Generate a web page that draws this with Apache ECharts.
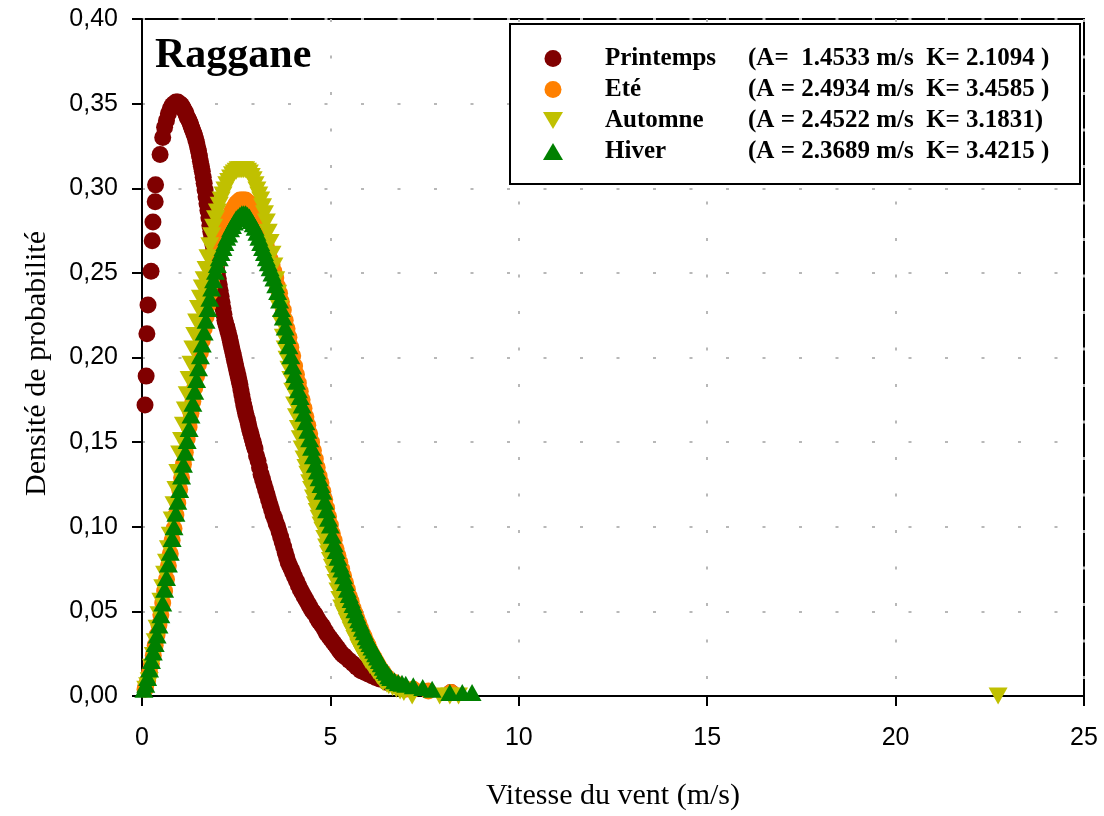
<!DOCTYPE html>
<html>
<head>
<meta charset="utf-8">
<script src="https://cdn.jsdelivr.net/npm/echarts@6/dist/echarts.min.js"></script>
<style>
  html, body { margin: 0; padding: 0; background: #fff; }
  #chart { width: 1104px; height: 816px; }
</style>
</head>
<body>
<div id="chart"></div>
<script>
// axis ticks
const xTicks = [0, 5, 10, 15, 20, 25];
const yTicks = [0, 0.05, 0.1, 0.15, 0.2, 0.25, 0.3, 0.35, 0.4];

const seasons = ['Printemps', 'Eté', 'Automne', 'Hiver'];
const params = [
  '(A=  1.4533 m/s  K= 2.1094 )',
  '(A = 2.4934 m/s  K= 3.4585 )',
  '(A = 2.4522 m/s  K= 3.1831)',
  '(A = 2.3689 m/s  K= 3.4215 )'
];

// [vitesse, densite]
const printemps = [
  [0.08,0.172],[0.11,0.189],[0.13,0.214],[0.16,0.231],[0.24,0.251],[0.27,0.269],[0.29,0.280],[0.35,0.292],
  [0.36,0.302],[0.48,0.320],[0.55,0.330],[0.6,0.336],[0.65,0.340],[0.7,0.344],[0.75,0.347],[0.8,0.349],
  [0.85,0.350],[0.9,0.351],[0.95,0.351],[1.0,0.350],[1.025,0.3495],[1.05,0.349],[1.075,0.348],[1.1,0.347],
  [1.125,0.346],[1.15,0.345],[1.175,0.3435],[1.2,0.342],[1.225,0.341],[1.25,0.340],[1.275,0.3385],[1.3,0.337],
  [1.325,0.3355],[1.35,0.334],[1.375,0.3325],[1.4,0.331],[1.425,0.329],[1.45,0.327],[1.475,0.3245],[1.5,0.322],
  [1.525,0.319],[1.55,0.316],[1.575,0.313],[1.6,0.310],[1.625,0.3065],[1.65,0.303],[1.675,0.299],[1.7,0.295],
  [1.725,0.291],[1.75,0.287],[1.775,0.2825],[1.8,0.278],[1.825,0.2745],[1.85,0.271],[1.875,0.2675],[1.9,0.264],
  [1.925,0.2605],[1.95,0.257],[1.975,0.2535],[2.0,0.250],[2.025,0.2465],[2.05,0.243],[2.075,0.2395],[2.1,0.236],
  [2.125,0.2325],[2.15,0.229],[2.175,0.2255],[2.2,0.222],[2.225,0.220],[2.25,0.218],[2.275,0.216],[2.3,0.214],
  [2.325,0.2115],[2.35,0.209],[2.375,0.2065],[2.4,0.204],[2.425,0.2015],[2.45,0.199],[2.475,0.1965],[2.5,0.194],
  [2.525,0.1915],[2.55,0.189],[2.575,0.1865],[2.6,0.184],[2.625,0.181],[2.65,0.178],[2.675,0.175],[2.7,0.172],
  [2.725,0.1695],[2.75,0.167],[2.775,0.165],[2.8,0.163],[2.825,0.1605],[2.85,0.158],[2.875,0.156],[2.9,0.154],
  [2.925,0.152],[2.95,0.150],[2.975,0.148],[3.0,0.146],[3.04,0.142],[3.08,0.139],[3.12,0.135],[3.16,0.131],
  [3.2,0.128],[3.24,0.125],[3.28,0.122],[3.32,0.119],[3.36,0.116],[3.4,0.113],[3.44,0.110],[3.48,0.107],
  [3.52,0.105],[3.56,0.102],[3.6,0.100],[3.64,0.097],[3.68,0.094],[3.72,0.091],[3.76,0.088],[3.8,0.085],
  [3.84,0.082],[3.88,0.079],[3.92,0.077],[3.96,0.075],[4.0,0.073],[4.05,0.0705],[4.1,0.068],[4.15,0.0655],
  [4.2,0.063],[4.25,0.061],[4.3,0.059],[4.35,0.057],[4.4,0.055],[4.45,0.053],[4.5,0.051],[4.55,0.0495],
  [4.6,0.048],[4.65,0.046],[4.7,0.044],[4.75,0.0425],[4.8,0.041],[4.85,0.039],[4.9,0.037],[4.95,0.0355],
  [5.0,0.034],[5.05,0.0325],[5.1,0.031],[5.15,0.0295],[5.2,0.028],[5.25,0.0265],[5.3,0.025],[5.35,0.024],
  [5.4,0.023],[5.5,0.021],[5.6,0.019],[5.7,0.017],[5.8,0.015],[5.9,0.014],[6.0,0.013],[6.1,0.012],
  [6.2,0.011],[6.3,0.010],[6.5,0.008],[8.2,0.002]
];

const ete = [
  [0.08,0.004],[0.1,0.006],[0.15,0.009],[0.2,0.014],[0.25,0.019],[0.3,0.024],[0.35,0.030],[0.4,0.036],
  [0.45,0.042],[0.5,0.048],[0.55,0.055],[0.6,0.062],[0.65,0.069],[0.7,0.077],[0.75,0.084],[0.8,0.092],
  [0.85,0.099],[0.9,0.107],[0.95,0.114],[1.0,0.122],[1.05,0.129],[1.1,0.137],[1.15,0.144],[1.2,0.152],
  [1.25,0.159],[1.3,0.167],[1.35,0.174],[1.4,0.182],[1.45,0.189],[1.5,0.196],[1.55,0.203],[1.6,0.210],
  [1.65,0.217],[1.7,0.224],[1.75,0.231],[1.8,0.238],[1.85,0.244],[1.9,0.250],[1.95,0.255],[2.0,0.260],
  [2.05,0.265],[2.1,0.269],[2.15,0.273],[2.2,0.277],[2.25,0.280],[2.3,0.283],[2.35,0.285],[2.4,0.287],
  [2.45,0.289],[2.5,0.291],[2.55,0.292],[2.6,0.293],[2.65,0.293],[2.7,0.293],[2.75,0.293],[2.8,0.292],
  [2.85,0.291],[2.9,0.289],[2.95,0.287],[3.0,0.285],[3.05,0.282],[3.1,0.279],[3.15,0.276],[3.2,0.273],
  [3.25,0.269],[3.3,0.266],[3.35,0.262],[3.4,0.258],[3.45,0.255],[3.5,0.251],[3.55,0.247],[3.6,0.242],
  [3.65,0.238],[3.7,0.233],[3.75,0.228],[3.8,0.222],[3.85,0.217],[3.9,0.212],[3.95,0.206],[4.0,0.201],
  [4.05,0.195],[4.1,0.190],[4.15,0.185],[4.2,0.180],[4.25,0.175],[4.3,0.170],[4.35,0.165],[4.4,0.160],
  [4.45,0.155],[4.5,0.150],[4.55,0.145],[4.6,0.140],[4.65,0.135],[4.7,0.130],[4.75,0.126],[4.8,0.121],
  [4.85,0.116],[4.9,0.111],[4.95,0.106],[5.0,0.101],[5.05,0.096],[5.1,0.092],[5.15,0.087],[5.2,0.083],
  [5.25,0.079],[5.3,0.075],[5.35,0.071],[5.4,0.067],[5.45,0.063],[5.5,0.059],[5.55,0.056],[5.6,0.052],
  [5.65,0.049],[5.7,0.046],[5.75,0.043],[5.8,0.040],[5.85,0.037],[5.9,0.035],[5.95,0.032],[6.0,0.030],
  [6.05,0.027],[6.1,0.025],[6.15,0.023],[6.2,0.021],[6.25,0.019],[6.3,0.017],[6.35,0.015],[6.4,0.014],
  [6.45,0.012],[6.5,0.011],[6.6,0.009],[6.7,0.008],[6.8,0.006],[6.9,0.005],[7.0,0.004],[7.2,0.004],
  [7.6,0.003],[8.2,0.002]
];

const automne = [
  [0.1,0.004],[0.15,0.006],[0.19,0.009],[0.25,0.017],[0.3,0.024],[0.35,0.032],[0.4,0.040],[0.45,0.048],
  [0.5,0.056],[0.55,0.064],[0.6,0.072],[0.65,0.079],[0.7,0.087],[0.75,0.095],[0.8,0.104],[0.85,0.113],
  [0.9,0.122],[0.95,0.132],[1.0,0.143],[1.05,0.151],[1.1,0.160],[1.15,0.169],[1.2,0.178],[1.25,0.187],
  [1.3,0.196],[1.35,0.205],[1.4,0.213],[1.45,0.221],[1.5,0.229],[1.55,0.235],[1.6,0.241],[1.65,0.246],
  [1.7,0.252],[1.75,0.259],[1.8,0.266],[1.85,0.272],[1.9,0.277],[1.95,0.282],[2.0,0.286],[2.05,0.290],
  [2.1,0.293],[2.15,0.296],[2.2,0.299],[2.25,0.302],[2.3,0.304],[2.35,0.306],[2.4,0.308],[2.45,0.309],
  [2.5,0.310],[2.55,0.311],[2.6,0.311],[2.65,0.311],[2.7,0.311],[2.75,0.311],[2.8,0.310],[2.85,0.309],
  [2.9,0.307],[2.95,0.305],[3.0,0.302],[3.05,0.299],[3.1,0.296],[3.15,0.293],[3.2,0.289],[3.25,0.285],
  [3.3,0.280],[3.35,0.274],[3.4,0.268],[3.45,0.261],[3.5,0.254],[3.55,0.246],[3.6,0.238],[3.65,0.229],
  [3.7,0.220],[3.75,0.212],[3.8,0.205],[3.85,0.199],[3.9,0.193],[3.95,0.187],[4.0,0.180],[4.05,0.172],
  [4.1,0.165],[4.15,0.158],[4.2,0.152],[4.25,0.146],[4.3,0.140],[4.35,0.135],[4.4,0.131],[4.45,0.126],
  [4.5,0.122],[4.55,0.117],[4.6,0.113],[4.65,0.109],[4.7,0.105],[4.75,0.101],[4.8,0.098],[4.85,0.093],
  [4.9,0.088],[4.95,0.084],[5.0,0.080],[5.05,0.076],[5.1,0.072],[5.15,0.067],[5.2,0.062],[5.25,0.057],
  [5.3,0.052],[5.35,0.049],[5.4,0.047],[5.45,0.044],[5.5,0.042],[5.55,0.039],[5.6,0.037],[5.65,0.034],
  [5.7,0.032],[5.75,0.029],[5.8,0.027],[5.85,0.025],[5.9,0.023],[5.95,0.021],[6.0,0.020],[6.05,0.018],
  [6.1,0.017],[6.15,0.015],[6.2,0.014],[6.25,0.012],[6.3,0.011],[6.35,0.009],[6.4,0.008],[6.5,0.007],
  [6.55,0.006],[6.65,0.005],[6.75,0.004],[6.85,0.003],[6.95,0.002],[7.17,0.0],[7.9,0.0],[8.17,0.0],
  [8.4,0.0],[22.72,0.0]
];

const hiver = [
  [0.05,0.004],[0.1,0.007],[0.15,0.011],[0.2,0.016],[0.25,0.021],[0.3,0.026],[0.35,0.031],[0.4,0.036],
  [0.45,0.042],[0.5,0.048],[0.55,0.055],[0.6,0.063],[0.65,0.070],[0.7,0.078],[0.75,0.085],[0.8,0.093],
  [0.85,0.100],[0.9,0.108],[0.95,0.115],[1.0,0.122],[1.05,0.130],[1.1,0.137],[1.15,0.144],[1.2,0.151],
  [1.25,0.158],[1.3,0.166],[1.35,0.173],[1.4,0.180],[1.45,0.187],[1.5,0.194],[1.55,0.201],[1.6,0.208],
  [1.65,0.215],[1.7,0.222],[1.75,0.229],[1.8,0.235],[1.85,0.241],[1.9,0.246],[1.95,0.251],[2.0,0.255],
  [2.05,0.259],[2.1,0.262],[2.15,0.265],[2.2,0.268],[2.25,0.271],[2.3,0.273],[2.35,0.276],[2.4,0.278],
  [2.45,0.280],[2.5,0.282],[2.55,0.283],[2.6,0.284],[2.65,0.285],[2.7,0.285],[2.75,0.285],[2.8,0.284],
  [2.85,0.283],[2.9,0.281],[2.95,0.279],[3.0,0.277],[3.05,0.274],[3.1,0.271],[3.15,0.268],[3.2,0.265],
  [3.25,0.262],[3.3,0.259],[3.35,0.256],[3.4,0.253],[3.45,0.250],[3.5,0.247],[3.55,0.243],[3.6,0.239],
  [3.65,0.234],[3.7,0.229],[3.75,0.224],[3.8,0.218],[3.85,0.213],[3.9,0.207],[3.95,0.201],[4.0,0.195],
  [4.05,0.190],[4.1,0.186],[4.15,0.181],[4.2,0.177],[4.25,0.172],[4.3,0.167],[4.35,0.162],[4.4,0.157],
  [4.45,0.152],[4.5,0.147],[4.55,0.142],[4.6,0.137],[4.65,0.133],[4.7,0.129],[4.75,0.125],[4.8,0.121],
  [4.85,0.115],[4.9,0.110],[4.95,0.105],[5.0,0.101],[5.05,0.095],[5.1,0.090],[5.15,0.086],[5.2,0.082],
  [5.25,0.078],[5.3,0.075],[5.35,0.071],[5.4,0.067],[5.45,0.063],[5.5,0.060],[5.55,0.057],[5.6,0.054],
  [5.65,0.051],[5.7,0.048],[5.75,0.045],[5.8,0.043],[5.85,0.040],[5.9,0.038],[5.95,0.035],[6.0,0.033],
  [6.05,0.031],[6.1,0.029],[6.15,0.027],[6.2,0.025],[6.25,0.023],[6.3,0.021],[6.35,0.019],[6.4,0.017],
  [6.45,0.015],[6.5,0.014],[6.55,0.012],[6.6,0.011],[6.7,0.009],[6.8,0.008],[6.9,0.0075],[7.0,0.007],
  [7.2,0.006],[7.45,0.005],[7.7,0.004],[8.17,0.002],[8.5,0.002],[8.76,0.002]
];

const colors = ['#800000', '#ff8000', '#c0c000', '#008000'];
const downTriangle = 'path://M0,0L20,0L10,17Z';

const chart = echarts.init(document.getElementById('chart'));

const option = {
  animation: false,
  backgroundColor: '#fff',
  title: {
    text: 'Raggane',
    left: 155,
    top: 35,
    padding: 0,
    textStyle: { fontFamily: 'Liberation Serif', fontWeight: 'bold', fontSize: 42, color: '#000' }
  },
  legend: {
    data: [
      { name: seasons[0], icon: 'circle' },
      { name: seasons[1], icon: 'circle' },
      { name: seasons[2], icon: downTriangle },
      { name: seasons[3], icon: 'triangle' }
    ],
    orient: 'vertical',
    left: 510,
    top: 24,
    padding: [22, 22, 20, 33],
    itemWidth: 20,
    itemHeight: 17,
    itemGap: 6,
    borderColor: '#000',
    borderWidth: 2,
    backgroundColor: '#fff',
    selectedMode: false,
    formatter: function (name) {
      return '{n|' + name + '}{p|' + params[seasons.indexOf(name)] + '}';
    },
    textStyle: {
      rich: {
        n: { fontFamily: 'Liberation Serif', fontWeight: 'bold', fontSize: 25, color: '#000',
             width: 143, padding: [0, 0, 0, 37], lineHeight: 25 },
        p: { fontFamily: 'Liberation Serif', fontWeight: 'bold', fontSize: 25, color: '#000',
             width: 310, lineHeight: 25 }
      }
    }
  },
  grid: {
    left: 142, right: 20, top: 19, bottom: 117,
    show: true, borderColor: '#000', borderWidth: 2, backgroundColor: 'transparent'
  },
  xAxis: {
    type: 'value',
    min: xTicks[0],
    max: xTicks[xTicks.length - 1],
    interval: 5,
    name: 'Vitesse du vent (m/s)',
    nameLocation: 'middle',
    nameGap: 85,
    nameTextStyle: { fontFamily: 'Liberation Serif', fontSize: 30, color: '#000' },
    axisLine: { lineStyle: { color: '#000', width: 2 } },
    axisTick: { length: 10, lineStyle: { color: '#000', width: 2 } },
    axisLabel: { margin: 30, fontFamily: 'Liberation Sans', fontSize: 25, color: '#000' },
    splitLine: { show: true, lineStyle: { color: '#b8b8b8', width: 2, type: [3, 33.5] } }
  },
  yAxis: {
    type: 'value',
    min: yTicks[0],
    max: yTicks[yTicks.length - 1],
    interval: 0.05,
    name: 'Densité de probabilité',
    nameLocation: 'middle',
    nameGap: 90,
    nameTextStyle: { fontFamily: 'Liberation Serif', fontSize: 30, color: '#000', padding: [0, 12, 0, 0] },
    axisLine: { show: true, lineStyle: { color: '#000', width: 2 } },
    axisTick: { show: true, length: 10, lineStyle: { color: '#000', width: 2 } },
    axisLabel: {
      margin: 24, fontFamily: 'Liberation Sans', fontSize: 25, color: '#000',
      formatter: function (v) { return v.toFixed(2).replace('.', ','); }
    },
    splitLine: { show: true, lineStyle: { color: '#b8b8b8', width: 2, type: [3, 33.5] } }
  },
  series: [
    { name: 'Printemps', type: 'scatter', data: printemps, symbol: 'circle', symbolSize: 17,
      itemStyle: { color: colors[0], opacity: 1 } },
    { name: 'Eté', type: 'scatter', data: ete, symbol: 'circle', symbolSize: 17,
      itemStyle: { color: colors[1], opacity: 1 } },
    { name: 'Automne', type: 'scatter', data: automne, symbol: 'triangle', symbolRotate: 180,
      symbolSize: [19, 17], itemStyle: { color: colors[2], opacity: 1 } },
    { name: 'Hiver', type: 'scatter', data: hiver, symbol: 'triangle', symbolSize: [19, 17],
      itemStyle: { color: colors[3], opacity: 1 } }
  ]
};

chart.setOption(option);
</script>
</body>
</html>
